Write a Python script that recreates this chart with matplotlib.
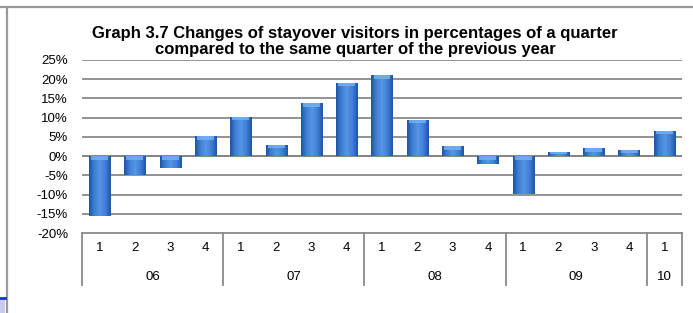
import numpy as np
import matplotlib
matplotlib.use("Agg")
import matplotlib.pyplot as plt
from matplotlib.lines import Line2D
from matplotlib.patches import Rectangle
import matplotlib.transforms as mtransforms
from matplotlib.colors import LinearSegmentedColormap

plt.rcParams['font.family'] = ['Liberation Sans', 'DejaVu Sans']

quarters = ["1", "2", "3", "4", "1", "2", "3", "4", "1", "2", "3", "4", "1", "2", "3", "4", "1"]
years = ["06", "07", "08", "09", "10"]
year_counts = [4, 4, 4, 4, 1]
values = [-15.5, -5.0, -3.2, 5.2, 10.3, 3.0, 13.8, 19.1, 21.0, 9.4, 2.6, -2.1, -9.8, 1.1, 2.0, 1.7, 6.6]
yticks = [-20, -15, -10, -5, 0, 5, 10, 15, 20, 25]
title = ("Graph 3.7 Changes of stayover visitors in percentages of a quarter\n"
         "compared to the same quarter of the previous year")

W, H = 693, 313
fig = plt.figure(figsize=(W / 100, H / 100), dpi=100)
fig.patch.set_facecolor('white')

left, right, top, bottom = 82, 682, 60, 233
ax = fig.add_axes([left / W, 1 - bottom / H, (right - left) / W, (bottom - top) / H])

for s in ax.spines.values():
    s.set_visible(False)

# gridlines
for t in yticks:
    if t == -20:
        continue
    ax.axhline(t, color='#8a8a8a' if t != 0 else '#7a7a7a', lw=1.3, zorder=1)

# bars with bevel-like gradient
cmap = LinearSegmentedColormap.from_list('b', ['#1f55a6', '#3f80d6', '#5596e6', '#3f80d6', '#1f55a6'])
x = np.arange(len(values))
bars = ax.bar(x, values, width=0.6, color='#3572c6', edgecolor='none', zorder=2)
grad = np.linspace(0, 1, 64).reshape(1, -1)
for b, v in zip(bars, values):
    x0 = b.get_x()
    x1 = x0 + b.get_width()
    y0, y1 = (0, v) if v >= 0 else (v, 0)
    im = ax.imshow(grad, extent=[x0, x1, y0, y1], cmap=cmap, aspect='auto', zorder=3,
                   interpolation='bilinear')
    im.set_clip_path(b)
    cap = min(0.9, abs(v) * 0.5)
    ytop = v - cap if v >= 0 else -cap
    ax.add_patch(Rectangle((x0 + 0.06, ytop), b.get_width() - 0.12, cap,
                           facecolor='#74b0f0', edgecolor='none', alpha=0.85, zorder=4))
ax.set_xlim(-0.5, len(values) - 0.5)
ax.set_ylim(-20, 25)

ax.set_yticks(yticks)
ax.set_yticklabels([f"{t}%" for t in yticks], fontsize=9.5)
ax.tick_params(axis='y', length=0, pad=10)
ax.set_xticks([])

# category axis box
trans = mtransforms.blended_transform_factory(ax.transData, ax.transAxes)
ax_h = bottom - top
ybot = -(285 - bottom) / ax_h
ax.plot([-0.5, len(values) - 0.5], [0, 0], transform=trans, color='#8a8a8a', lw=1.3,
        clip_on=False, zorder=5)
qy = -(248 - bottom) / ax_h
yy = -(277 - bottom) / ax_h
for i, q in enumerate(quarters):
    ax.text(i, qy, q, transform=trans, ha='center', va='center', fontsize=9.5)
pos = -0.5
ax.plot([pos, pos], [0, ybot], transform=trans, color='#8a8a8a', lw=1.3, clip_on=False)
for yl, c in zip(years, year_counts):
    ax.text(pos + c / 2, yy, yl, transform=trans, ha='center', va='center', fontsize=9.5)
    pos += c
    ax.plot([pos, pos], [0, ybot], transform=trans, color='#8a8a8a', lw=1.3, clip_on=False)

fig.text(355 / W, 1 - 41.5 / H, title, ha='center', va='center', fontsize=12,
         fontweight='bold', linespacing=1.1)

# frame lines
fig.add_artist(Line2D([0, 1], [1 - 6.5 / H, 1 - 6.5 / H], transform=fig.transFigure,
                      color='#9a9a9a', lw=1.6))
fig.add_artist(Line2D([6.5 / W, 6.5 / W], [0, 1 - 6.5 / H], transform=fig.transFigure,
                      color='#9a9a9a', lw=1.6))
fig.add_artist(Rectangle((0, 0), 5 / W, 15 / H, transform=fig.transFigure,
                         facecolor='#c8cbec', edgecolor='none'))
fig.add_artist(Line2D([0, 5 / W], [15 / H, 15 / H], transform=fig.transFigure,
                      color='#1030ff', lw=2))

fig.savefig('out.png', dpi=100)
